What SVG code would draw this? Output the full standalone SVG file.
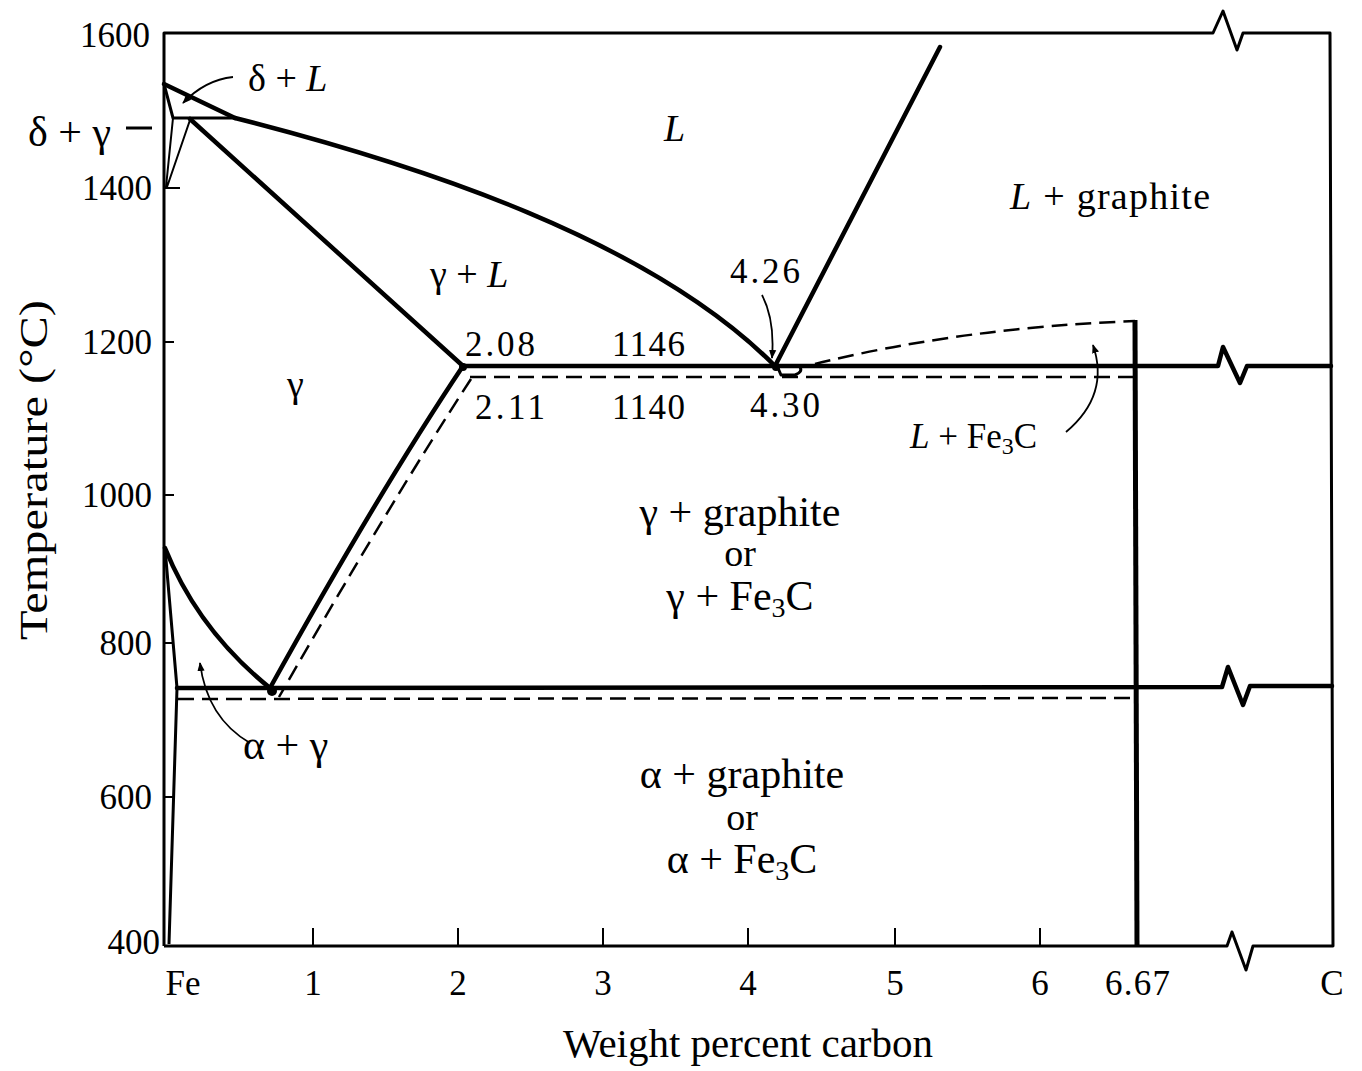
<svg xmlns="http://www.w3.org/2000/svg" width="1362" height="1071" viewBox="0 0 1362 1071">
<defs>
<style>
.t{font-family:"Liberation Serif","Times New Roman",serif;fill:#000}
.n{font-size:35px}
.lab{font-size:38px}
.big{font-size:42px}
.it{font-style:italic}
.thick{fill:none;stroke:#000;stroke-width:4.5;stroke-linejoin:round;stroke-linecap:round}
.mid{fill:none;stroke:#000;stroke-width:3;stroke-linejoin:round}
.thin{fill:none;stroke:#000;stroke-width:2}
.dash{fill:none;stroke:#000;stroke-width:2.5;stroke-dasharray:16 8}
.lead{fill:none;stroke:#000;stroke-width:1.8}
</style>
<marker id="ah" viewBox="0 0 10 10" refX="9" refY="5" markerWidth="9" markerHeight="9" orient="auto" markerUnits="userSpaceOnUse">
<path d="M0,1 L10,5 L0,9 Z" fill="#000"/>
</marker>
</defs>
<rect width="1362" height="1071" fill="#fff"/>

<g id="frame">
<path class="mid" d="M164,946 L164,33 L1213,33 L1223,11 L1237,50 L1243,33 L1330,33 L1333,946 L1253,946 L1246,970 L1232,932 L1227,946 L164,946"/>
<path class="thin" d="M313,946 V928 M458,946 V928 M603,946 V928 M748,946 V928 M895,946 V928 M1040,946 V928"/>
<path class="thin" d="M164,188 H180 M164,342 H174 M164,495 H174 M164,643 H174 M164,797 H174"/>
</g>

<g id="phase-lines">
<path class="thick" d="M164,84 L235,118"/>
<path class="mid" d="M164,84 L173,118 L235,118"/>
<path class="thin" d="M173,118 L166,187 M190,120 L167,187"/>
<path class="thick" d="M235,118 C420,165 650,240 775,366"/>
<path class="thick" d="M775,366 L940,47"/>
<path class="thick" d="M190,119 L463,366"/>
<path class="thick" d="M463,366 L1218,366 L1223,347 L1240,383 L1247,366 L1331,366"/>
<path class="dash" d="M470,377 L1135,377"/>
<path class="dash" d="M815,364 Q960,328 1135,321"/>
<path class="mid" d="M778,368 L781,375 L795,375 Q803,372 800,367"/>
<path d="M1135,320 L1137,946" stroke="#000" stroke-width="5" fill="none"/>
<path class="thick" d="M463,366 Q380,490 270,688"/>
<path class="dash" d="M471,379 Q392,500 279,697"/>
<path class="thick" d="M165,548 Q198,630 270,688"/>
<path class="mid" d="M165,548 L177,688 L169,944"/>
<path class="thick" d="M177,688 L1222,687 L1228,667 L1243,705 L1250,686 L1332,686"/>
<path class="dash" d="M178,699 L1135,698"/>
<circle cx="463" cy="367" r="4"/>
<circle cx="272" cy="691" r="5"/>
<circle cx="776" cy="367" r="4"/>
</g>

<g id="leaders">
<path class="lead" d="M233,77 Q205,80 183,103" marker-end="url(#ah)"/>
<path class="mid" d="M126,128 H152"/>
<path class="lead" d="M762,295 Q775,320 772,358" marker-end="url(#ah)"/>
<path class="lead" d="M1066,432 Q1110,395 1093,345" marker-end="url(#ah)"/>
<path class="lead" d="M250,743 Q207,718 200,663" marker-end="url(#ah)"/>
</g>

<g id="labels">
<text class="t n" x="150" y="47" text-anchor="end">1600</text>
<text class="t n" x="152" y="200" text-anchor="end">1400</text>
<text class="t n" x="152" y="354" text-anchor="end">1200</text>
<text class="t n" x="152" y="507" text-anchor="end">1000</text>
<text class="t n" x="152" y="655" text-anchor="end">800</text>
<text class="t n" x="152" y="809" text-anchor="end">600</text>
<text class="t n" x="160" y="954" text-anchor="end">400</text>

<text class="t n" x="183" y="995" text-anchor="middle">Fe</text>
<text class="t n" x="313" y="995" text-anchor="middle">1</text>
<text class="t n" x="458" y="995" text-anchor="middle">2</text>
<text class="t n" x="603" y="995" text-anchor="middle">3</text>
<text class="t n" x="748" y="995" text-anchor="middle">4</text>
<text class="t n" x="895" y="995" text-anchor="middle">5</text>
<text class="t n" x="1040" y="995" text-anchor="middle">6</text>
<text class="t n" x="1105" y="995" textLength="65" lengthAdjust="spacing">6.67</text>
<text class="t n" x="1332" y="995" text-anchor="middle">C</text>

<text class="t" font-size="39" x="563" y="1057" textLength="370" lengthAdjust="spacingAndGlyphs">Weight percent carbon</text>
<text class="t" font-size="39" transform="translate(47,640) rotate(-90)" textLength="340" lengthAdjust="spacingAndGlyphs">Temperature (°C)</text>

<text class="t big" x="28" y="146">δ + γ</text>
<text class="t lab" x="248" y="91">δ + <tspan class="it">L</tspan></text>
<text class="t lab it" x="664" y="141">L</text>
<text class="t lab" x="1010" y="209" textLength="200" lengthAdjust="spacing"><tspan class="it">L</tspan> + graphite</text>
<text class="t lab" x="430" y="287">γ + <tspan class="it">L</tspan></text>
<text class="t lab" x="287" y="397">γ</text>

<text class="t n" x="465" y="356" textLength="70" lengthAdjust="spacing">2.08</text>
<text class="t n" x="612" y="356" textLength="73" lengthAdjust="spacing">1146</text>
<text class="t n" x="730" y="283" textLength="70" lengthAdjust="spacing">4.26</text>
<text class="t n" x="475" y="419" textLength="70" lengthAdjust="spacing">2.11</text>
<text class="t n" x="612" y="419" textLength="73" lengthAdjust="spacing">1140</text>
<text class="t n" x="750" y="417" textLength="70" lengthAdjust="spacing">4.30</text>
<text class="t n" x="910" y="448"><tspan class="it">L</tspan> + Fe<tspan font-size="24" dy="6">3</tspan><tspan dy="-6">C</tspan></text>

<text class="t big" x="740" y="526" text-anchor="middle">γ + graphite</text>
<text class="t lab" x="740" y="566" text-anchor="middle">or</text>
<text class="t big" x="740" y="610" text-anchor="middle">γ + Fe<tspan font-size="28" dy="7">3</tspan><tspan dy="-7">C</tspan></text>

<text class="t big" x="742" y="788" text-anchor="middle">α + graphite</text>
<text class="t lab" x="742" y="830" text-anchor="middle">or</text>
<text class="t big" x="742" y="873" text-anchor="middle">α + Fe<tspan font-size="28" dy="7">3</tspan><tspan dy="-7">C</tspan></text>

<text class="t big" x="243" y="759">α + γ</text>
</g>
</svg>
